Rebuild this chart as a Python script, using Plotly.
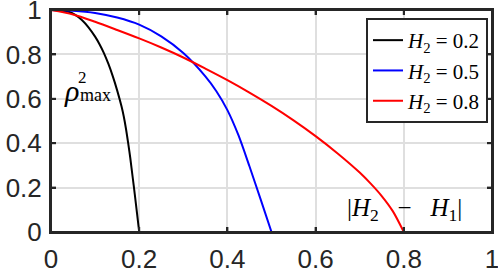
import plotly.graph_objects as go

# Data
h2_labels = ["0.2", "0.5", "0.8"]
black_x = [0, 0.02, 0.04, 0.055, 0.07, 0.085, 0.1, 0.11, 0.12, 0.13, 0.14, 0.15, 0.16, 0.165, 0.17, 0.175, 0.18, 0.185, 0.19, 0.195, 0.2]
black_y = [1, 0.998, 0.992, 0.978, 0.955, 0.922, 0.88, 0.846, 0.806, 0.758, 0.702, 0.638, 0.565, 0.52, 0.465, 0.40, 0.33, 0.25, 0.17, 0.085, 0]
blue_x = [0, 0.05, 0.1, 0.15, 0.2, 0.25, 0.3, 0.35, 0.375, 0.4, 0.425, 0.45, 0.475, 0.5]
blue_y = [1, 0.997, 0.987, 0.966, 0.934, 0.881, 0.806, 0.701, 0.634, 0.549, 0.436, 0.296, 0.149, 0]
red_x = [0, 0.05, 0.1, 0.15, 0.2, 0.25, 0.3, 0.35, 0.4, 0.45, 0.5, 0.55, 0.6, 0.65, 0.7, 0.725, 0.75, 0.775, 0.8]
red_y = [1, 0.98, 0.947, 0.91, 0.872, 0.831, 0.786, 0.736, 0.684, 0.628, 0.568, 0.503, 0.432, 0.354, 0.268, 0.218, 0.162, 0.094, 0]
x_ticks = [0, 0.2, 0.4, 0.6, 0.8, 1]
y_ticks = [0, 0.2, 0.4, 0.6, 0.8, 1]
tick_text = ["0", "0.2", "0.4", "0.6", "0.8", "1"]

series = [
    (black_x, black_y, "#000000", h2_labels[0]),
    (blue_x, blue_y, "#0000ff", h2_labels[1]),
    (red_x, red_y, "#ff0000", h2_labels[2]),
]

AX = "#262626"

fig = go.Figure()
for xs, ys, col, lab in series:
    fig.add_trace(go.Scatter(
        x=xs, y=ys, mode="lines",
        line=dict(color=col, width=2, shape="spline", smoothing=0.8),
        name=f"<i>H</i><sub>2</sub> = {lab}",
    ))

axis_common = dict(
    showline=True, linewidth=2, linecolor=AX, mirror="ticks",
    ticks="inside", ticklen=5, tickwidth=2, tickcolor=AX,
    showgrid=True, gridcolor="#dfdfdf", gridwidth=2, zeroline=False,
    automargin=False, ticklabeloverflow="allow",
    tickfont=dict(family="Liberation Sans, Arial", size=26, color=AX),
)

fig.update_layout(
    width=498, height=271,
    margin=dict(l=51, r=6, t=10, b=39, autoexpand=False),
    paper_bgcolor="white", plot_bgcolor="white",
    showlegend=True,
    legend=dict(
        x=(488 - 51) / 441, y=(232 - 18) / 222, xanchor="right", yanchor="top",
        bgcolor="white", bordercolor=AX, borderwidth=2,
        font=dict(family="Liberation Serif, Times New Roman", size=21, color="#000000"),
        tracegroupgap=0, itemwidth=30,
    ),
    xaxis=dict(range=[0, 1], tickvals=x_ticks, ticktext=tick_text, ticklabelstandoff=3, **axis_common),
    yaxis=dict(range=[0, 1], tickvals=y_ticks, ticktext=tick_text, ticklabelstandoff=2, **axis_common),
)

# plot frame
fig.add_shape(type="rect", xref="paper", yref="paper", x0=0, y0=0, x1=1, y1=1,
              line=dict(color=AX, width=2), layer="above")
# inside tick marks on all four sides
for t in x_ticks[1:-1]:
    fig.add_shape(type="line", xref="x", yref="paper", ysizemode="pixel", yanchor=0,
                  x0=t, x1=t, y0=0, y1=5, line=dict(color=AX, width=2), layer="above")
    fig.add_shape(type="line", xref="x", yref="paper", ysizemode="pixel", yanchor=1,
                  x0=t, x1=t, y0=-5, y1=0, line=dict(color=AX, width=2), layer="above")
for t in y_ticks[1:-1]:
    fig.add_shape(type="line", xref="paper", yref="y", xsizemode="pixel", xanchor=0,
                  x0=0, x1=5, y0=t, y1=t, line=dict(color=AX, width=2), layer="above")
    fig.add_shape(type="line", xref="paper", yref="y", xsizemode="pixel", xanchor=1,
                  x0=-5, x1=0, y0=t, y1=t, line=dict(color=AX, width=2), layer="above")

ann_font = dict(family="Liberation Serif, Times New Roman", color="#000000")
fig.add_annotation(xref="paper", yref="paper", x=(71 - 51) / 441, y=(232 - 90) / 222,
                   xanchor="center", yanchor="middle",
                   text="<i>ρ</i>", showarrow=False, font=dict(size=30, **ann_font))
fig.add_annotation(xref="paper", yref="paper", x=(82 - 51) / 441, y=(232 - 77) / 222,
                   xanchor="center", yanchor="middle",
                   text="2", showarrow=False, font=dict(size=17, **ann_font))
fig.add_annotation(xref="paper", yref="paper", x=(95 - 51) / 441, y=(232 - 95) / 222,
                   xanchor="center", yanchor="middle",
                   text="max", showarrow=False, font=dict(size=18, **ann_font))
nb = "\u00a0"
fig.add_annotation(xref="paper", yref="paper", x=(404 - 51) / 441, y=(232 - 209) / 222,
                   xanchor="center", yanchor="middle",
                   text=f"|<i>H</i><sub>2</sub>{nb*3}−{nb*3}<i>H</i><sub>1</sub>|", showarrow=False,
                   font=dict(size=25, **ann_font))

fig.write_html("out.html", config={"displayModeBar": False},
               post_script="document.body.style.margin='0';")
